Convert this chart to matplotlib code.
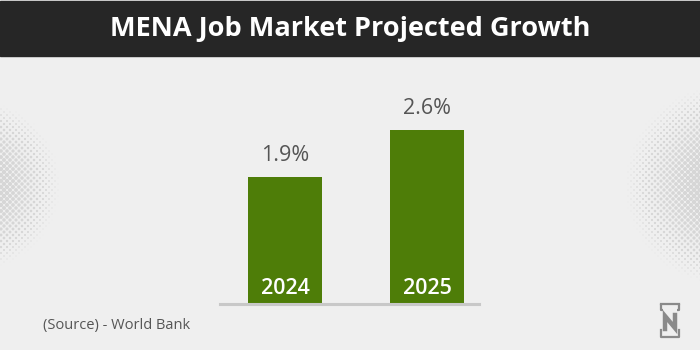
import numpy as np
import matplotlib.pyplot as plt
from matplotlib.patches import Rectangle

# Chart data
years = ["2024", "2025"]
growth = [1.9, 2.6]
value_labels = ["1.9%", "2.6%"]

title = "MENA Job Market Projected Growth"
source = "(Source) - World Bank"

W, H = 700, 350
bg = "#efefef"
bar_color = "#4e7d08"
text_gray = "#555555"

plt.rcParams["font.family"] = ["Open Sans", "DejaVu Sans"]

fig = plt.figure(figsize=(W / 100, H / 100), dpi=100, facecolor=bg)

# Background layer in pixel coordinates (y grows downward)
bgax = fig.add_axes([0, 0, 1, 1])
bgax.set_xlim(0, W)
bgax.set_ylim(H, 0)
bgax.axis("off")
bgax.set_facecolor(bg)


def halftone(ax, cx, cy, radius, step=6.0):
    xs, ys, ss = [], [], []
    for j, y in enumerate(np.arange(cy - radius, cy + radius, step / 2)):
        off = (j % 2) * step / 2
        for x in np.arange(cx - radius + off, cx + radius, step):
            d = np.hypot(x - cx, y - cy) / radius
            if d < 1 and 0 <= x <= W:
                xs.append(x)
                ys.append(y)
                ss.append((1 - d) ** 1.1 * 15)
    ax.scatter(xs, ys, s=ss, c="#d6d6d6", marker="o", linewidths=0, zorder=0)


halftone(bgax, -25, 185, 85)
halftone(bgax, 725, 185, 100)

# Dark header band with title
bgax.add_patch(Rectangle((0, 1), W, 55, color="#262626", zorder=1))
bgax.text(W / 2, 29, title, color="white", fontsize=19.5, fontweight="bold",
          ha="center", va="center", zorder=2)

bgax.text(43, 326, source, color=text_gray, fontsize=10.5, ha="left", va="center")

# Small bracket logo in the corner
lc = "#8a8a8a"
bgax.plot([663, 661, 661], [310, 310, 304], color=lc, lw=1.6, solid_capstyle="butt")
bgax.plot([677, 679, 679], [310, 310, 304], color=lc, lw=1.6, solid_capstyle="butt")
bgax.plot([661, 679], [304, 304], color=lc, lw=1.6)
bgax.plot([661, 661, 679, 679], [330, 337, 337, 330], color=lc, lw=1.6)
bgax.plot([665, 665, 675, 675], [329, 316, 328, 315], color=lc, lw=3.2,
          solid_joinstyle="miter")

# Bar chart axes
ax = fig.add_axes([220 / W, 46 / H, 259 / W, 250 / H])
ax.set_facecolor("none")
x = np.arange(len(years))
bars = ax.bar(x, growth, width=0.52, color=bar_color, zorder=2)
ax.set_xlim(-0.458, 1.366)
ax.set_ylim(0, 250 / 66.9)
for s in ["top", "right", "left"]:
    ax.spines[s].set_visible(False)
ax.spines["bottom"].set_color("#c8c8c8")
ax.spines["bottom"].set_linewidth(2.2)
ax.set_xticks([])
ax.set_yticks([])

for xi, v, lab, yr in zip(x, growth, value_labels, years):
    ax.annotate(lab, (xi, v), xytext=(0, 8), textcoords="offset points",
                ha="center", va="bottom", fontsize=15.5, color=text_gray)
    ax.annotate(yr, (xi, 0), xytext=(0, 11), textcoords="offset points",
                ha="center", va="center", fontsize=15.5, color="white",
                fontweight="semibold")

fig.savefig("out.png", dpi=100, facecolor=bg)
